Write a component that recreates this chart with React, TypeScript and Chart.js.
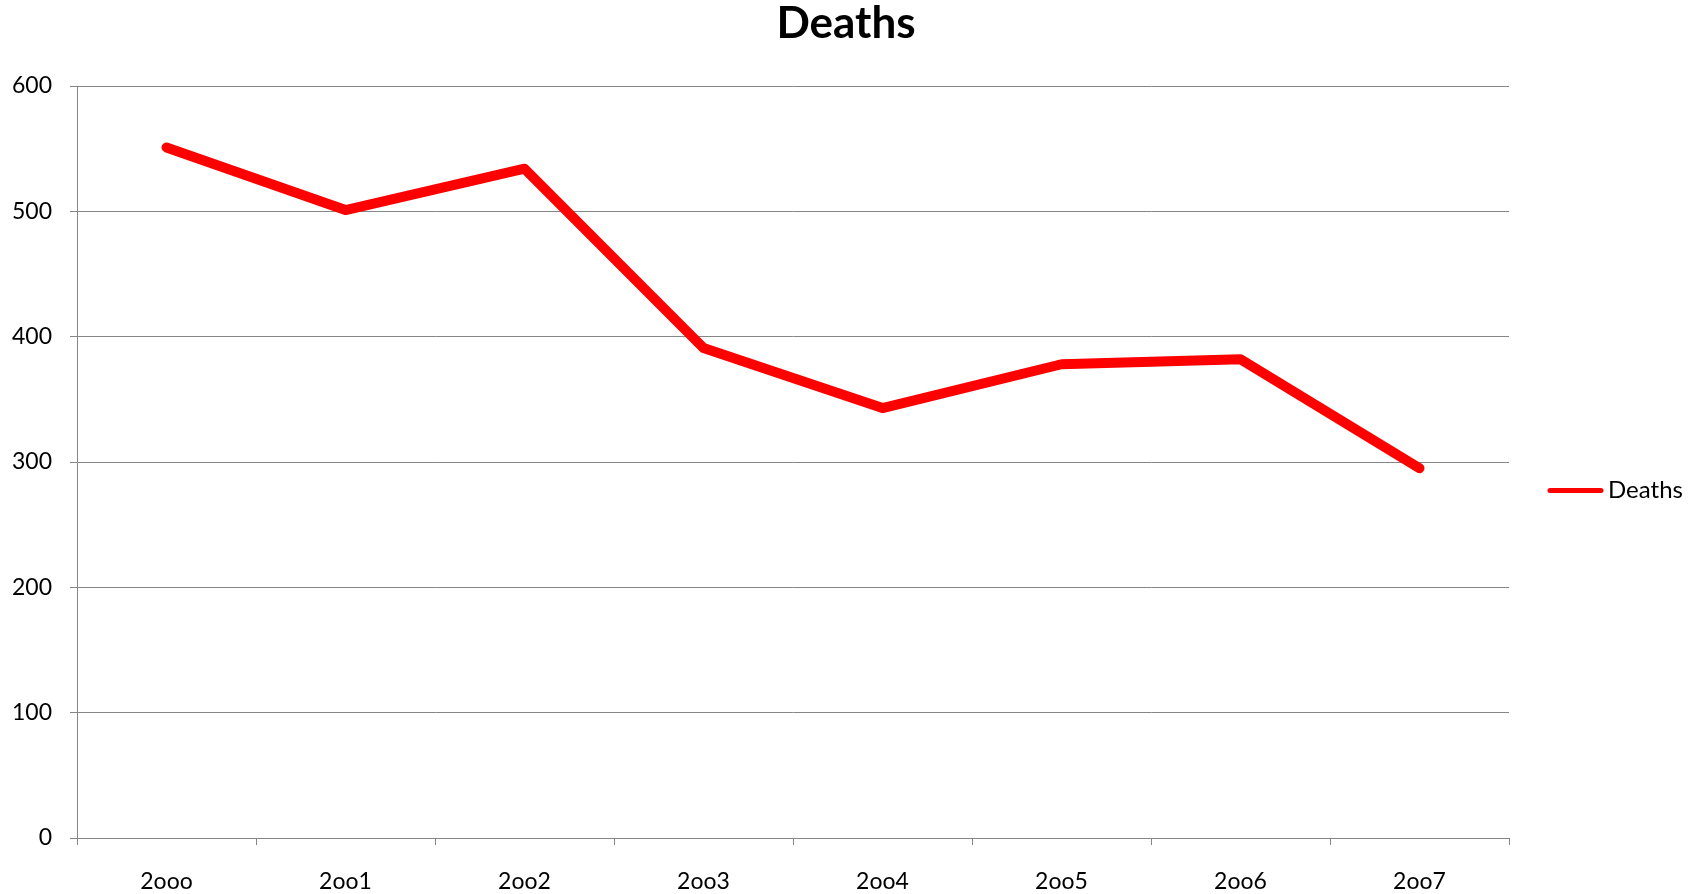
import React, { useEffect, useRef } from "react";
import { Chart, registerables } from "chart.js";

Chart.register(...registerables);

const categories = ["2ooo", "2oo1", "2oo2", "2oo3", "2oo4", "2oo5", "2oo6", "2oo7"];
const deaths = [551, 501, 534, 391, 343, 378, 382, 295];
const seriesName = "Deaths";
const chartTitle = "Deaths";
const yMin = 0;
const yMax = 600;
const yStep = 100;

const FONT = "Lato, 'Open Sans', sans-serif";
const GRID = "#868686";
const RED = "#FF0000";

const titleLegendPlugin = {
  id: "titleLegend",
  afterDraw(chart: any) {
    const ctx = chart.ctx;
    const ds = chart.data.datasets[0];
    const area = chart.chartArea;
    ctx.save();
    // title
    ctx.fillStyle = "#000";
    ctx.font = `bold 44px ${FONT}`;
    ctx.textAlign = "center";
    ctx.textBaseline = "alphabetic";
    ctx.fillText(chartTitle, chart.width / 2 - 3, 38);
    // legend
    const x0 = area.right + 39;
    const y = 490.5;
    ctx.strokeStyle = ds.borderColor;
    ctx.lineWidth = 5;
    ctx.lineCap = "round";
    ctx.beginPath();
    ctx.moveTo(x0 + 2, y);
    ctx.lineTo(x0 + 53, y);
    ctx.stroke();
    ctx.fillStyle = "#000";
    ctx.font = `24px ${FONT}`;
    ctx.textBaseline = "middle";
    ctx.textAlign = "left";
    ctx.fillText(ds.label, x0 + 60, y);
    ctx.restore();
  },
};

export default function App() {
  const ref = useRef<HTMLCanvasElement | null>(null);
  useEffect(() => {
    if (!ref.current) return;
    const chart = new Chart(ref.current, {
      type: "line",
      data: {
        labels: categories,
        datasets: [
          {
            label: seriesName,
            data: deaths,
            borderColor: RED,
            backgroundColor: RED,
            borderWidth: 10,
            borderCapStyle: "round",
            borderJoinStyle: "round",
            pointRadius: 0,
            tension: 0,
          },
        ],
      },
      options: {
        animation: false,
        responsive: false,
        maintainAspectRatio: false,
        layout: { padding: { left: 0, right: 189, top: 86, bottom: 0 } },
        plugins: {
          legend: { display: false },
          tooltip: { enabled: false },
          title: { display: false },
        },
        scales: {
          x: {
            type: "category",
            offset: true,
            grid: {
              display: true,
              drawOnChartArea: false,
              drawTicks: true,
              tickLength: 7,
              color: GRID,
              lineWidth: 1,
              offset: true,
            },
            border: { display: true, color: GRID, width: 1 },
            ticks: {
              color: "#000",
              font: { family: FONT, size: 23, lineHeight: 1.2 },
              padding: 23,
              maxRotation: 0,
              autoSkip: false,
            },
            afterFit(scale: any) {
              scale.height = 56;
            },
          },
          y: {
            min: yMin,
            max: yMax,
            grid: {
              color: GRID,
              lineWidth: 1,
              drawTicks: true,
              tickLength: 7,
            },
            border: { display: true, color: GRID, width: 1 },
            ticks: {
              stepSize: yStep,
              color: "#000",
              font: { family: FONT, size: 23, lineHeight: 1.2 },
              padding: 18,
            },
            afterFit(scale: any) {
              scale.width = 77;
            },
          },
        },
      },
      plugins: [titleLegendPlugin],
    } as any);
    return () => chart.destroy();
  }, []);
  return (
    <div style={{ position: "fixed", left: 0, top: 0, width: 1698, height: 894, background: "#fff" }}>
      <canvas ref={ref} width={1698} height={894} style={{ display: "block", width: 1698, height: 894 }} />
    </div>
  );
}
